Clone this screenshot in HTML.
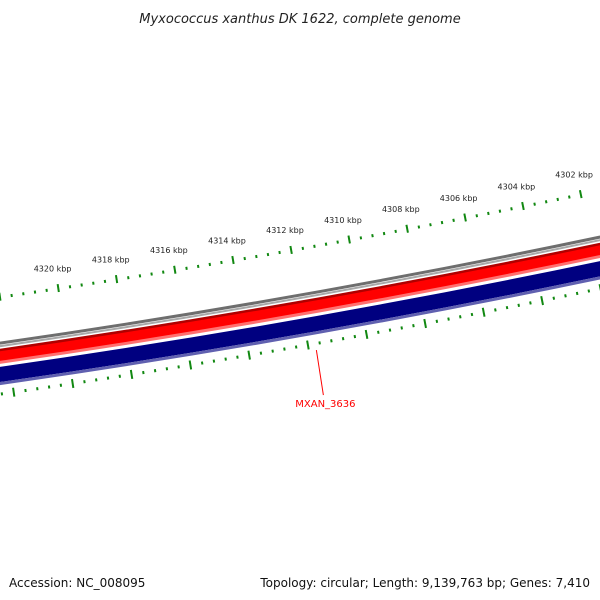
<!DOCTYPE html>
<html><head><meta charset="utf-8"><style>
body{margin:0;background:#fff;}
svg{display:block;font-family:"DejaVu Sans","Liberation Sans",sans-serif;}
</style></head><body>
<svg id="map" width="600" height="600" viewBox="0 0 600 600">
<rect width="600" height="600" fill="#fff"/>
<text x="300" y="23" text-anchor="middle" font-size="13" font-style="italic" fill="#222">Myxococcus xanthus DK 1622, complete genome</text>
<text x="9" y="587" font-size="12" fill="#111">Accession: NC_008095</text>
<text x="590" y="587" text-anchor="end" font-size="12" fill="#111">Topology: circular; Length: 9,139,763 bp; Genes: 7,410</text>
<g id="rings"></g>
</svg>
<script>
const majorTicks = [4302, 4304, 4306, 4308, 4310, 4312, 4314, 4316, 4318, 4320, 4322];
const tickLabels = ["4302 kbp","4304 kbp","4306 kbp","4308 kbp","4310 kbp","4312 kbp","4314 kbp","4316 kbp","4318 kbp","4320 kbp",""];
const featureName = ["MXAN_3636"];
const featureKbp = [4311.75];

const NS = "http://www.w3.org/2000/svg";
const g = document.getElementById("rings");
const cx = -1353, cy = -9060, R = 9500;
const ang = k => 1.3960 + (k - 4312) * 0.00312;
const pt = (r, a) => [cx + r * Math.cos(a), cy + r * Math.sin(a)];
const aL = Math.acos((-30 - cx) / R), aR = Math.acos((640 - cx) / R);

function ring(off, w, color, name) {
  const r = R + off;
  const p1 = pt(r, aL), p2 = pt(r, aR);
  const p = document.createElementNS(NS, "path");
  p.setAttribute("d", `M${p1[0]},${p1[1]} A${r},${r} 0 0 0 ${p2[0]},${p2[1]}`);
  p.setAttribute("fill", "none");
  p.setAttribute("stroke", color);
  p.setAttribute("stroke-width", w);
  
  
  g.appendChild(p);
}
ring(0, 3, "#6e6e6e", "backbone-ring");
ring(3, 2, "#a8a8a8", "backbone-ring-light");
ring(7, 3, "#b00000", "forward-cds-edge");
ring(13, 10, "#ff0000", "forward-cds-ring");
ring(19, 3, "#ff7070", "forward-cds-light");
ring(31, 15, "#000080", "reverse-cds-ring");
ring(40, 3, "#6060b0", "reverse-cds-light");

function tick(r0, r1, k, w, name) {
  const a = ang(k);
  const p = pt(r0, a), q = pt(r1, a);
  const l = document.createElementNS(NS, "line");
  l.setAttribute("x1", p[0]); l.setAttribute("y1", p[1]);
  l.setAttribute("x2", q[0]); l.setAttribute("y2", q[1]);
  l.setAttribute("stroke", "#118811");
  l.setAttribute("stroke-width", w);
  
  
  g.appendChild(l);
}
majorTicks.forEach((k, i) => {
  tick(R - 50, R - 42, k, 2, "major-tick-outer");
  tick(R + 46, R + 55, k, 2, "major-tick-inner");
  for (let j = 1; j < 5; j++) {
    tick(R - 47, R - 44, k + j * 0.4, 2, "minor-tick-outer");
    tick(R + 49, R + 52, k + j * 0.4, 2, "minor-tick-inner");
  }
  if (tickLabels[i]) {
    const p = pt(R - 64, ang(k));
    const t = document.createElementNS(NS, "text");
    t.setAttribute("x", p[0] - 3); t.setAttribute("y", p[1] + 1);
    t.setAttribute("text-anchor", "middle");
    t.setAttribute("font-size", "8");
    t.setAttribute("fill", "#222");
    t.textContent = tickLabels[i];
    
    
    g.appendChild(t);
  }
});
featureName.forEach((n, i) => {
  const a = ang(featureKbp[i]);
  const p = pt(R + 57, a);
  const l = document.createElementNS(NS, "line");
  l.setAttribute("x1", p[0]); l.setAttribute("y1", p[1]);
  l.setAttribute("x2", p[0] + 7); l.setAttribute("y2", p[1] + 45);
  l.setAttribute("stroke", "#ff0000"); l.setAttribute("stroke-width", 1);
  
  
  g.appendChild(l);
  const t = document.createElementNS(NS, "text");
  t.setAttribute("x", p[0] + 9); t.setAttribute("y", p[1] + 57);
  t.setAttribute("text-anchor", "middle");
  t.setAttribute("font-size", "10");
  t.setAttribute("fill", "#ff0000");
  t.textContent = n;
  
  
  g.appendChild(t);
});
</script>
</body></html>
